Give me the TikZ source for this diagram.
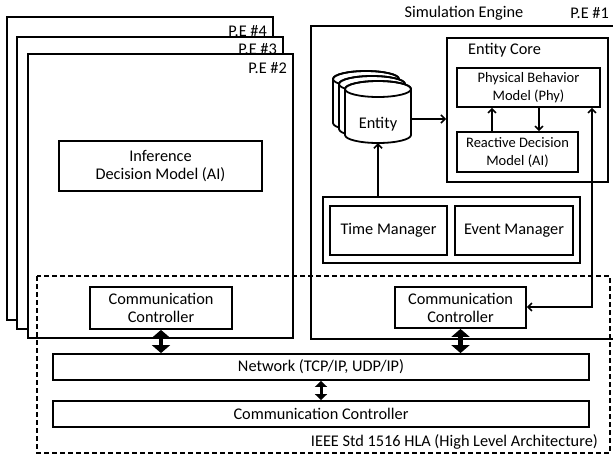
\documentclass[tikz,border=0pt]{standalone}
\usepackage{fontspec}
\setmainfont{Carlito}
\usetikzlibrary{arrows.meta}
\begin{document}
\begin{tikzpicture}[x=1pt,y=-1pt,
  box/.style={draw,line width=1.8pt,fill=white,inner sep=0pt,align=center,font=\fontsize{16.3}{18}\selectfont},
  sbox/.style={box,font=\fontsize{14.5}{18}\selectfont},
  frame/.style={draw,line width=2pt,fill=white,inner sep=0pt},
  lbl/.style={inner sep=0pt,font=\fontsize{16.3}{18}\selectfont},
  arr/.style={line width=1.8pt,-{Straight Barb[length=4pt,width=8pt,line width=1.5pt]}},
  arrb/.style={line width=1.8pt,{Straight Barb[length=4pt,width=8pt,line width=1.5pt]}-{Straight Barb[length=4pt,width=8pt,line width=1.5pt]}},
  fat/.style={line width=4.5pt,{Triangle[length=8pt,width=18pt]}-{Triangle[length=8pt,width=18pt]}},
  fatsmall/.style={line width=3pt,{Triangle[length=6pt,width=12pt]}-{Triangle[length=6pt,width=12pt]}},
  cyl/.style={draw,line width=1.8pt,fill=white}
]
\useasboundingbox (0,0) rectangle (613,456);
\clip (0,0) rectangle (613,456);
% P.E stacks
\node[frame,minimum width=266pt,minimum height=303pt] (pe4) at (140,168.5) {};
\node[lbl,anchor=base east] (pe4l) at (267,36) {P.E \#4};
\node[frame,minimum width=266pt,minimum height=292pt] (pe3) at (150,183) {};
\node[lbl,anchor=base east] (pe3l) at (277,54) {P.E \#3};
\node[frame,minimum width=265pt,minimum height=284pt] (pe2) at (160.5,196) {};
\node[lbl,anchor=base east] (pe2l) at (287,73) {P.E \#2};
\node[box,minimum width=203pt,minimum height=50pt] (inf) at (160.5,166) {Inference\\Decision Model (AI)};
% P.E #1
\node[frame,anchor=north west,minimum width=330pt,minimum height=313pt] (pe1) at (310,25) {};
\node[lbl] (sim) at (464,13) {Simulation Engine};
\node[lbl,anchor=east] (pe1l) at (609,13) {P.E \#1};
% Entity core
\node[frame,minimum width=161pt,minimum height=144pt] (core) at (527.5,110) {};
\node[lbl,anchor=west] (corel) at (468,50) {Entity Core};
\node[sbox,minimum width=143pt,minimum height=39pt] (phys) at (528.5,87.5) {Physical Behavior\\Model (Phy)};
\node[sbox,minimum width=121pt,minimum height=40pt] (react) at (517.5,152) {Reactive Decision\\Model (AI)};
\coordinate (ua) at (492,0);
\coordinate (da) at (539,0);
\draw[arr] (react.north -| ua) -- (phys.south -| ua);
\draw[arr] (phys.south -| da) -- (react.north -| da);
% cylinders
\foreach \cx/\t/\b in {366/71/131, 372/76/137, 378/81/143}{
  \path[cyl] (\cx-33,\t+8) -- (\cx-33,\b-8) arc[start angle=180,end angle=0,x radius=33,y radius=8]
    -- (\cx+33,\t+8) arc[start angle=0,end angle=-180,x radius=33,y radius=8] -- cycle;
  \draw[line width=1.8pt] (\cx,\t+8) ellipse[x radius=33,y radius=8];
}
\node[inner sep=0pt,minimum width=66pt,minimum height=62pt] (ent) at (378,112) {};
\node[lbl] (entl) at (378,124) {Entity};
\coordinate (entR) at (411,119);
\draw[arr] (entR) -- (entR -| core.west);
% managers
\node[frame,minimum width=257pt,minimum height=66pt] (te) at (451.5,230) {};
\node[box,minimum width=117pt,minimum height=49pt] (time) at (388.5,230.5) {Time Manager};
\node[box,minimum width=118pt,minimum height=49pt] (event) at (514,230.5) {Event Manager};
\draw[arr] (ent.south |- te.north) -- (ent.south);
% HLA
\node[box,minimum width=142pt,minimum height=42pt] (comml) at (161,308) {Communication\\Controller};
\node[box,minimum width=131pt,minimum height=41pt] (commr) at (460.5,307.5) {Communication\\Controller};
\coordinate (bend) at (592,307);
\draw[arrb] (phys.south -| bend) -- (bend) -- (bend -| commr.east);
\node[box,minimum width=536pt,minimum height=26pt] (net) at (321,367) {Network (TCP/IP, UDP/IP)};
\node[box,minimum width=536pt,minimum height=26pt] (cb) at (321,414) {Communication Controller};
\draw[line width=1.4pt,dash pattern=on 5pt off 3pt] (37,276) rectangle (610,453);
\node[lbl,anchor=base east] (ieee) at (598,446) {IEEE Std 1516 HLA (High Level Architecture)};
\draw[fat] (comml.south) -- (comml.south |- net.north);
\draw[fat] (commr.south) -- (commr.south |- net.north);
\draw[fatsmall] (net.south) -- (cb.north);
\end{tikzpicture}
\end{document}
